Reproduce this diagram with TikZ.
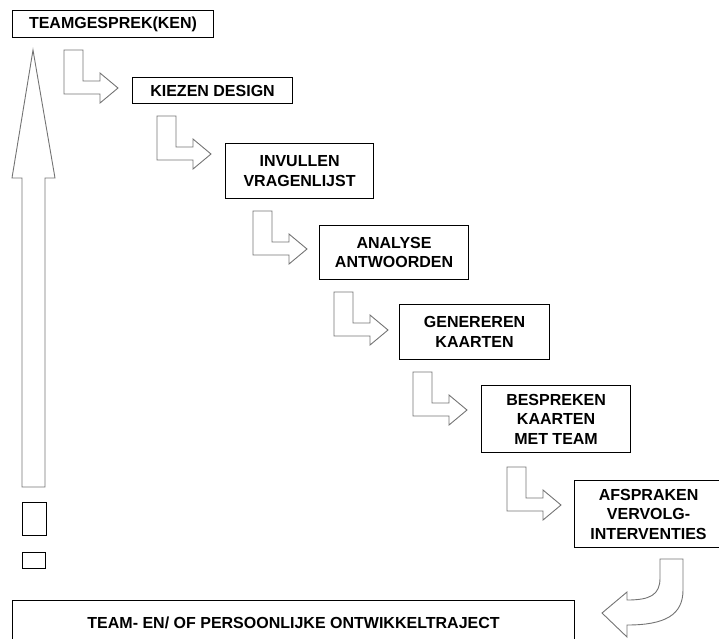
\documentclass[tikz,border=0pt]{standalone}
\usepackage{fontspec}
\setmainfont{Liberation Sans}
\begin{document}
\begin{tikzpicture}[x=1pt,y=-1pt,
        box/.style={draw, line width=1.1pt, align=center, inner sep=0pt, anchor=north west,
            font=\fontsize{16}{19.5}\selectfont\bfseries},
        blockarrow/.style={draw=black!55, line width=0.9pt, line join=miter}]
        \clip (0,0) rectangle (719,638);
        \node[box, minimum width=201, minimum height=27] (gesprek) at (12,10) {TEAMGESPREK(KEN)};
        \node[box, minimum width=160, minimum height=26] (kiezen) at (132,77) {KIEZEN DESIGN};
        \node[box, minimum width=148, minimum height=55] (invullen) at (225,143) {INVULLEN\\VRAGENLIJST};
        \node[box, minimum width=149, minimum height=54] (analyse) at (319,225) {ANALYSE\\ANTWOORDEN};
        \node[box, minimum width=150, minimum height=55] (genereren) at (399,304) {GENEREREN\\KAARTEN};
        \node[box, minimum width=149, minimum height=67] (bespreken) at (481,385) {BESPREKEN\\KAARTEN\\MET TEAM};
        \node[box, minimum width=148, minimum height=67] (afspraken) at (574,480) {AFSPRAKEN\\VERVOLG-\\INTERVENTIES};
        \node[box, minimum width=562, minimum height=44] (traject) at (12,600) {TEAM- EN/ OF PERSOONLIJKE ONTWIKKELTRAJECT};

        % step arrows
        \foreach \x/\y in {64/50, 157/116, 253/211, 334/292, 413/372, 507/467}
            \draw[blockarrow, shift={(\x,\y)}] (0,0) -- (19,0) -- (19,31) -- (36,31) -- (36,23)
                -- (54,38) -- (36,53) -- (36,44) -- (0,44) -- cycle;

        % big arrow up
        \draw[blockarrow] (33,50) -- (55,178) -- (45,178) -- (45,487) -- (22,487) -- (22,178) -- (12,178) -- cycle;
        \draw[line width=0.9pt] (22,502) rectangle (46,535);
        \draw[line width=0.9pt] (22,552) rectangle (45,568);

        % back to the trajectory
        \draw[blockarrow] (660,559) -- (683,559) -- (683,590) .. controls (683,615) and (665,625) .. (627,625)
            -- (627,637) -- (602,613) -- (627,592) -- (627,600) .. controls (650,600) and (660,595) .. (660,578) -- cycle;
    \end{tikzpicture}
\end{document}
